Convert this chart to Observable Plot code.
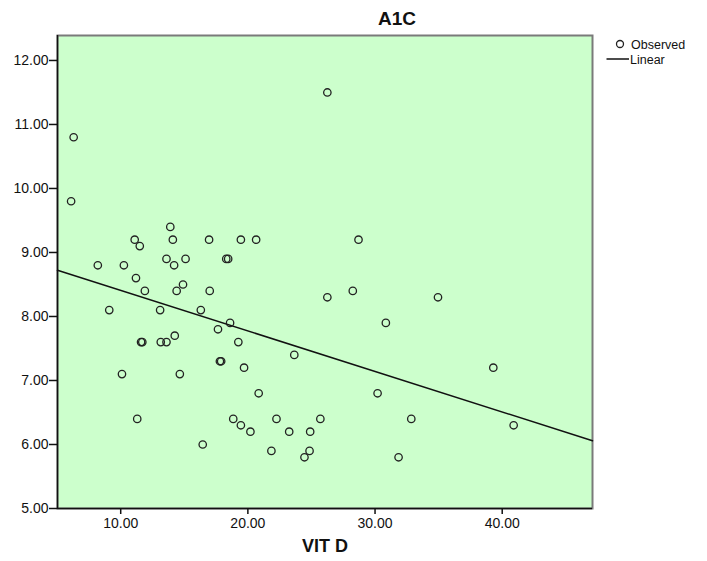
<!DOCTYPE html>
<html>
<head>
<meta charset="utf-8">
<script src="https://cdn.jsdelivr.net/npm/d3@7"></script>
<script src="https://cdn.jsdelivr.net/npm/@observablehq/plot@0.6"></script>
<style>
  html, body { margin: 0; padding: 0; background: #fff; }
  #wrap { position: relative; width: 707px; height: 561px; font-family: "Liberation Sans", Arial, sans-serif; }
  #wrap svg.plot { position: absolute; left: 0; top: 0; }
  .title { position: absolute; left: 0; width: 794px; top: 8px; text-align: center; font-weight: bold; font-size: 19px; color: #111; }
</style>
</head>
<body>
<div id="wrap"></div>
<script>
const vitD = [6.3, 6.1, 26.25, 8.2, 9.1, 10.25, 10.1, 11.1, 11.5, 11.2, 11.9, 11.6, 11.7, 11.3,
  13.1, 13.15, 13.6, 13.6, 13.9, 14.1, 14.2, 14.25, 14.4, 14.65, 14.9, 15.1, 16.3, 16.45, 16.95,
  17.0, 17.65, 17.8, 17.9, 18.3, 18.45, 18.6, 18.85, 19.25, 19.45, 19.45, 19.7, 20.2, 20.65,
  20.85, 21.85, 22.25, 23.25, 23.65, 24.45, 24.85, 24.9, 25.7, 26.25, 28.25, 28.7, 30.2, 30.85,
  31.85, 32.85, 34.95, 39.3, 40.9];
const a1c = [10.8, 9.8, 11.5, 8.8, 8.1, 8.8, 7.1, 9.2, 9.1, 8.6, 8.4, 7.6, 7.6, 6.4,
  8.1, 7.6, 7.6, 8.9, 9.4, 9.2, 8.8, 7.7, 8.4, 7.1, 8.5, 8.9, 8.1, 6.0, 9.2,
  8.4, 7.8, 7.3, 7.3, 8.9, 8.9, 7.9, 6.4, 7.6, 9.2, 6.3, 7.2, 6.2, 9.2,
  6.8, 5.9, 6.4, 6.2, 7.4, 5.8, 5.9, 6.2, 6.4, 8.3, 8.4, 9.2, 6.8, 7.9,
  5.8, 6.4, 8.3, 7.2, 6.3];

// Linear fit as drawn in the chart (intercept, slope)
const fitIntercept = 9.04;
const fitSlope = -0.0633;

// Axis settings
const xDomain = [5.03, 47.1];
const yDomain = [5.0, 12.39];
const xTicks = [10, 20, 30, 40];
const yTicks = [5, 6, 7, 8, 9, 10, 11, 12];

const title = "A1C";
const xLabel = "VIT D";
const legendLabels = ["Observed", "Linear"];

const points = vitD.map((v, i) => ({x: v, y: a1c[i]}));
const fitLine = xDomain.map(x => ({x, y: fitIntercept + fitSlope * x}));
const fmt = d3.format(".2f");

const chart = Plot.plot({
  width: 707,
  height: 561,
  marginLeft: 57,
  marginRight: 115,
  marginTop: 35,
  marginBottom: 53,
  style: {fontFamily: "'Liberation Sans', Arial, sans-serif", fontSize: "14px", color: "#111", background: "transparent"},
  x: {domain: xDomain, ticks: xTicks},
  y: {domain: yDomain, ticks: yTicks},
  marks: [
    Plot.frame({fill: "#ccffcc", stroke: "#7a7a7a", strokeWidth: 2}),
    Plot.ruleX([xDomain[0]], {stroke: "#111", strokeWidth: 1.5}),
    Plot.ruleY([yDomain[0]], {stroke: "#111", strokeWidth: 1.5}),
    Plot.axisY({ticks: yTicks, tickFormat: fmt, tickSize: 8, tickPadding: 1, label: null, fontSize: 14, stroke: "#111", strokeWidth: 1.5}),
    Plot.axisX({ticks: xTicks, tickFormat: fmt, tickSize: 6, tickPadding: 4, label: null, fontSize: 14, stroke: "#111", strokeWidth: 1.5}),
    Plot.text([xLabel], {frameAnchor: "bottom", dy: 43, text: d => d, fontWeight: "bold", fontSize: 18, fill: "#111"}),
    Plot.line(fitLine, {x: "x", y: "y", stroke: "#111", strokeWidth: 1.5}),
    Plot.dot(points, {x: "x", y: "y", r: 3.7, stroke: "#222", strokeWidth: 1.3, fill: "none"})
  ]
});
chart.classList.add("plot");
const wrap = document.getElementById("wrap");
wrap.appendChild(chart);

const t = document.createElement("div");
t.className = "title";
t.textContent = title;
wrap.appendChild(t);

// Legend
const leg = d3.create("svg").attr("width", 707).attr("height", 80)
  .style("position", "absolute").style("left", "0px").style("top", "0px")
  .style("font-family", "'Liberation Sans', Arial, sans-serif");
leg.append("circle").attr("cx", 620).attr("cy", 44).attr("r", 3.5)
  .attr("fill", "none").attr("stroke", "#222").attr("stroke-width", 1.3);
leg.append("text").attr("x", 631).attr("y", 48.5).attr("font-size", 12.5).attr("fill", "#111").text(legendLabels[0]);
leg.append("line").attr("x1", 606.5).attr("x2", 629).attr("y1", 59).attr("y2", 59)
  .attr("stroke", "#111").attr("stroke-width", 1.5);
leg.append("text").attr("x", 630).attr("y", 63.5).attr("font-size", 12.5).attr("fill", "#111").text(legendLabels[1]);
wrap.appendChild(leg.node());
</script>
</body>
</html>
